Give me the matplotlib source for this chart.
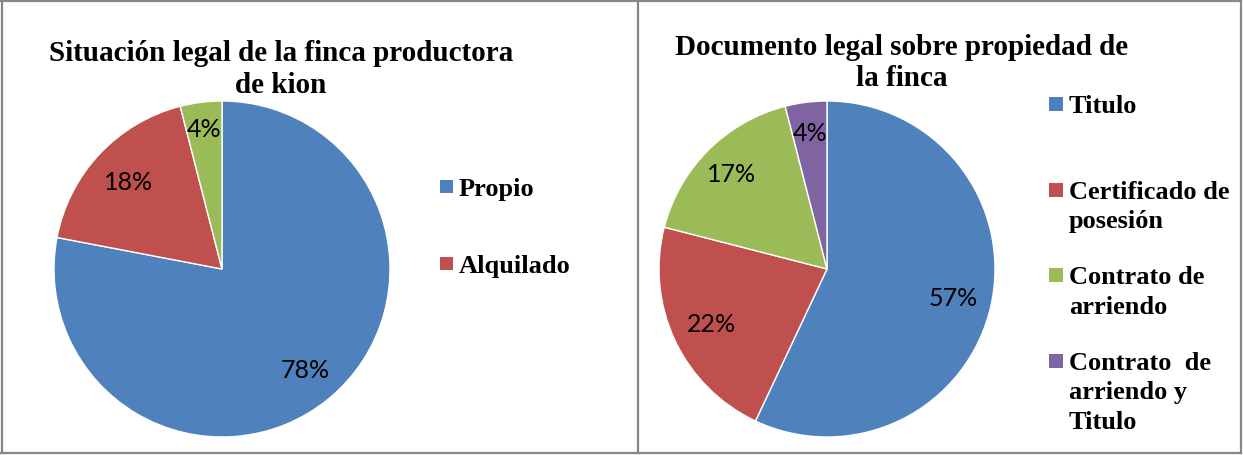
import numpy as np
import matplotlib.pyplot as plt
from matplotlib.patches import Rectangle
from matplotlib.lines import Line2D

W, H = 1243, 456

# Left chart data
left_title = 'Situación legal de la finca productora\nde kion'
left_labels = ['Propio', 'Alquilado']
left_values = [78, 18, 4]
left_colors = ['#4F81BD', '#C0504D', '#9BBB59']

# Right chart data
right_title = 'Documento legal sobre propiedad de\nla finca'
right_labels = ['Titulo', 'Certificado de\nposesión', 'Contrato de\narriendo',
                'Contrato  de\narriendo y\nTitulo']
right_values = [57, 22, 17, 4]
right_colors = ['#4F81BD', '#C0504D', '#9BBB59', '#8064A2']

title_font = dict(family='Liberation Serif', weight='bold', size=21)
legend_font = dict(family='Liberation Serif', weight='bold', size=19)
pct_font = dict(family='Lato', size=18)


def fx(px):
    return px / W


def fy(py):
    return 1 - py / H


def draw_pie(fig, cx, cy, r, values, colors, dists):
    ax = fig.add_axes([fx(cx - r), fy(cy + r), 2 * r / W, 2 * r / H])
    wedges, _, autotexts = ax.pie(values, colors=colors, startangle=90, counterclock=False,
                                  autopct='%1.0f%%', radius=1,
                                  wedgeprops=dict(edgecolor='white', linewidth=1))
    for w, t, d in zip(wedges, autotexts, dists):
        ang = np.deg2rad((w.theta1 + w.theta2) / 2)
        t.set_position((d * np.cos(ang), d * np.sin(ang)))
        t.set_fontfamily(pct_font['family'])
        t.set_fontsize(pct_font['size'])
        t.set_color('black')
    ax.set_xlim(-1, 1)
    ax.set_ylim(-1, 1)
    ax.axis('off')
    return ax


def draw_lines(fig, text, x, base, step, ha, font):
    # one fig.text per line so the line pitch can match the original
    for i, line in enumerate(text.split('\n')):
        fig.text(fx(x), fy(base + i * step), line, ha=ha, va='baseline', **font)


fig = plt.figure(figsize=(W / 100, H / 100), dpi=100)

draw_pie(fig, 222, 270, 168, left_values, left_colors, [0.78, 0.76, 0.84])
draw_pie(fig, 827, 270, 168, right_values, right_colors, [0.77, 0.76, 0.80, 0.82])

draw_lines(fig, left_title, 281, 61, 32, 'center', title_font)
draw_lines(fig, right_title, 902, 55, 30.5, 'center', title_font)

# left legend
for lab, col, base in zip(left_labels, left_colors, [196, 273]):
    fig.patches.append(Rectangle((fx(440), fy(base - 2)), 13 / W, 13 / H,
                                 transform=fig.transFigure, facecolor=col, edgecolor='none'))
    draw_lines(fig, lab, 459, base, 29.5, 'left', legend_font)

# right legend
for lab, col, base in zip(right_labels, right_colors, [113, 199, 284, 370]):
    fig.patches.append(Rectangle((fx(1049), fy(base - 1)), 14 / W, 14 / H,
                                 transform=fig.transFigure, facecolor=col, edgecolor='none'))
    draw_lines(fig, lab, 1069, base, 29.5, 'left', legend_font)

# frame and divider
gray = '#878787'
for xs, ys in [([1, 1241], [2, 2]), ([1, 1241], [454, 454]), ([1.5, 1.5], [2, 454]),
               ([1241, 1241], [2, 454]), ([638, 638], [2, 454])]:
    fig.add_artist(Line2D([fx(x) for x in xs], [fy(y) for y in ys], color=gray,
                          linewidth=1.6, transform=fig.transFigure))

fig.savefig('out.png', dpi=100)
